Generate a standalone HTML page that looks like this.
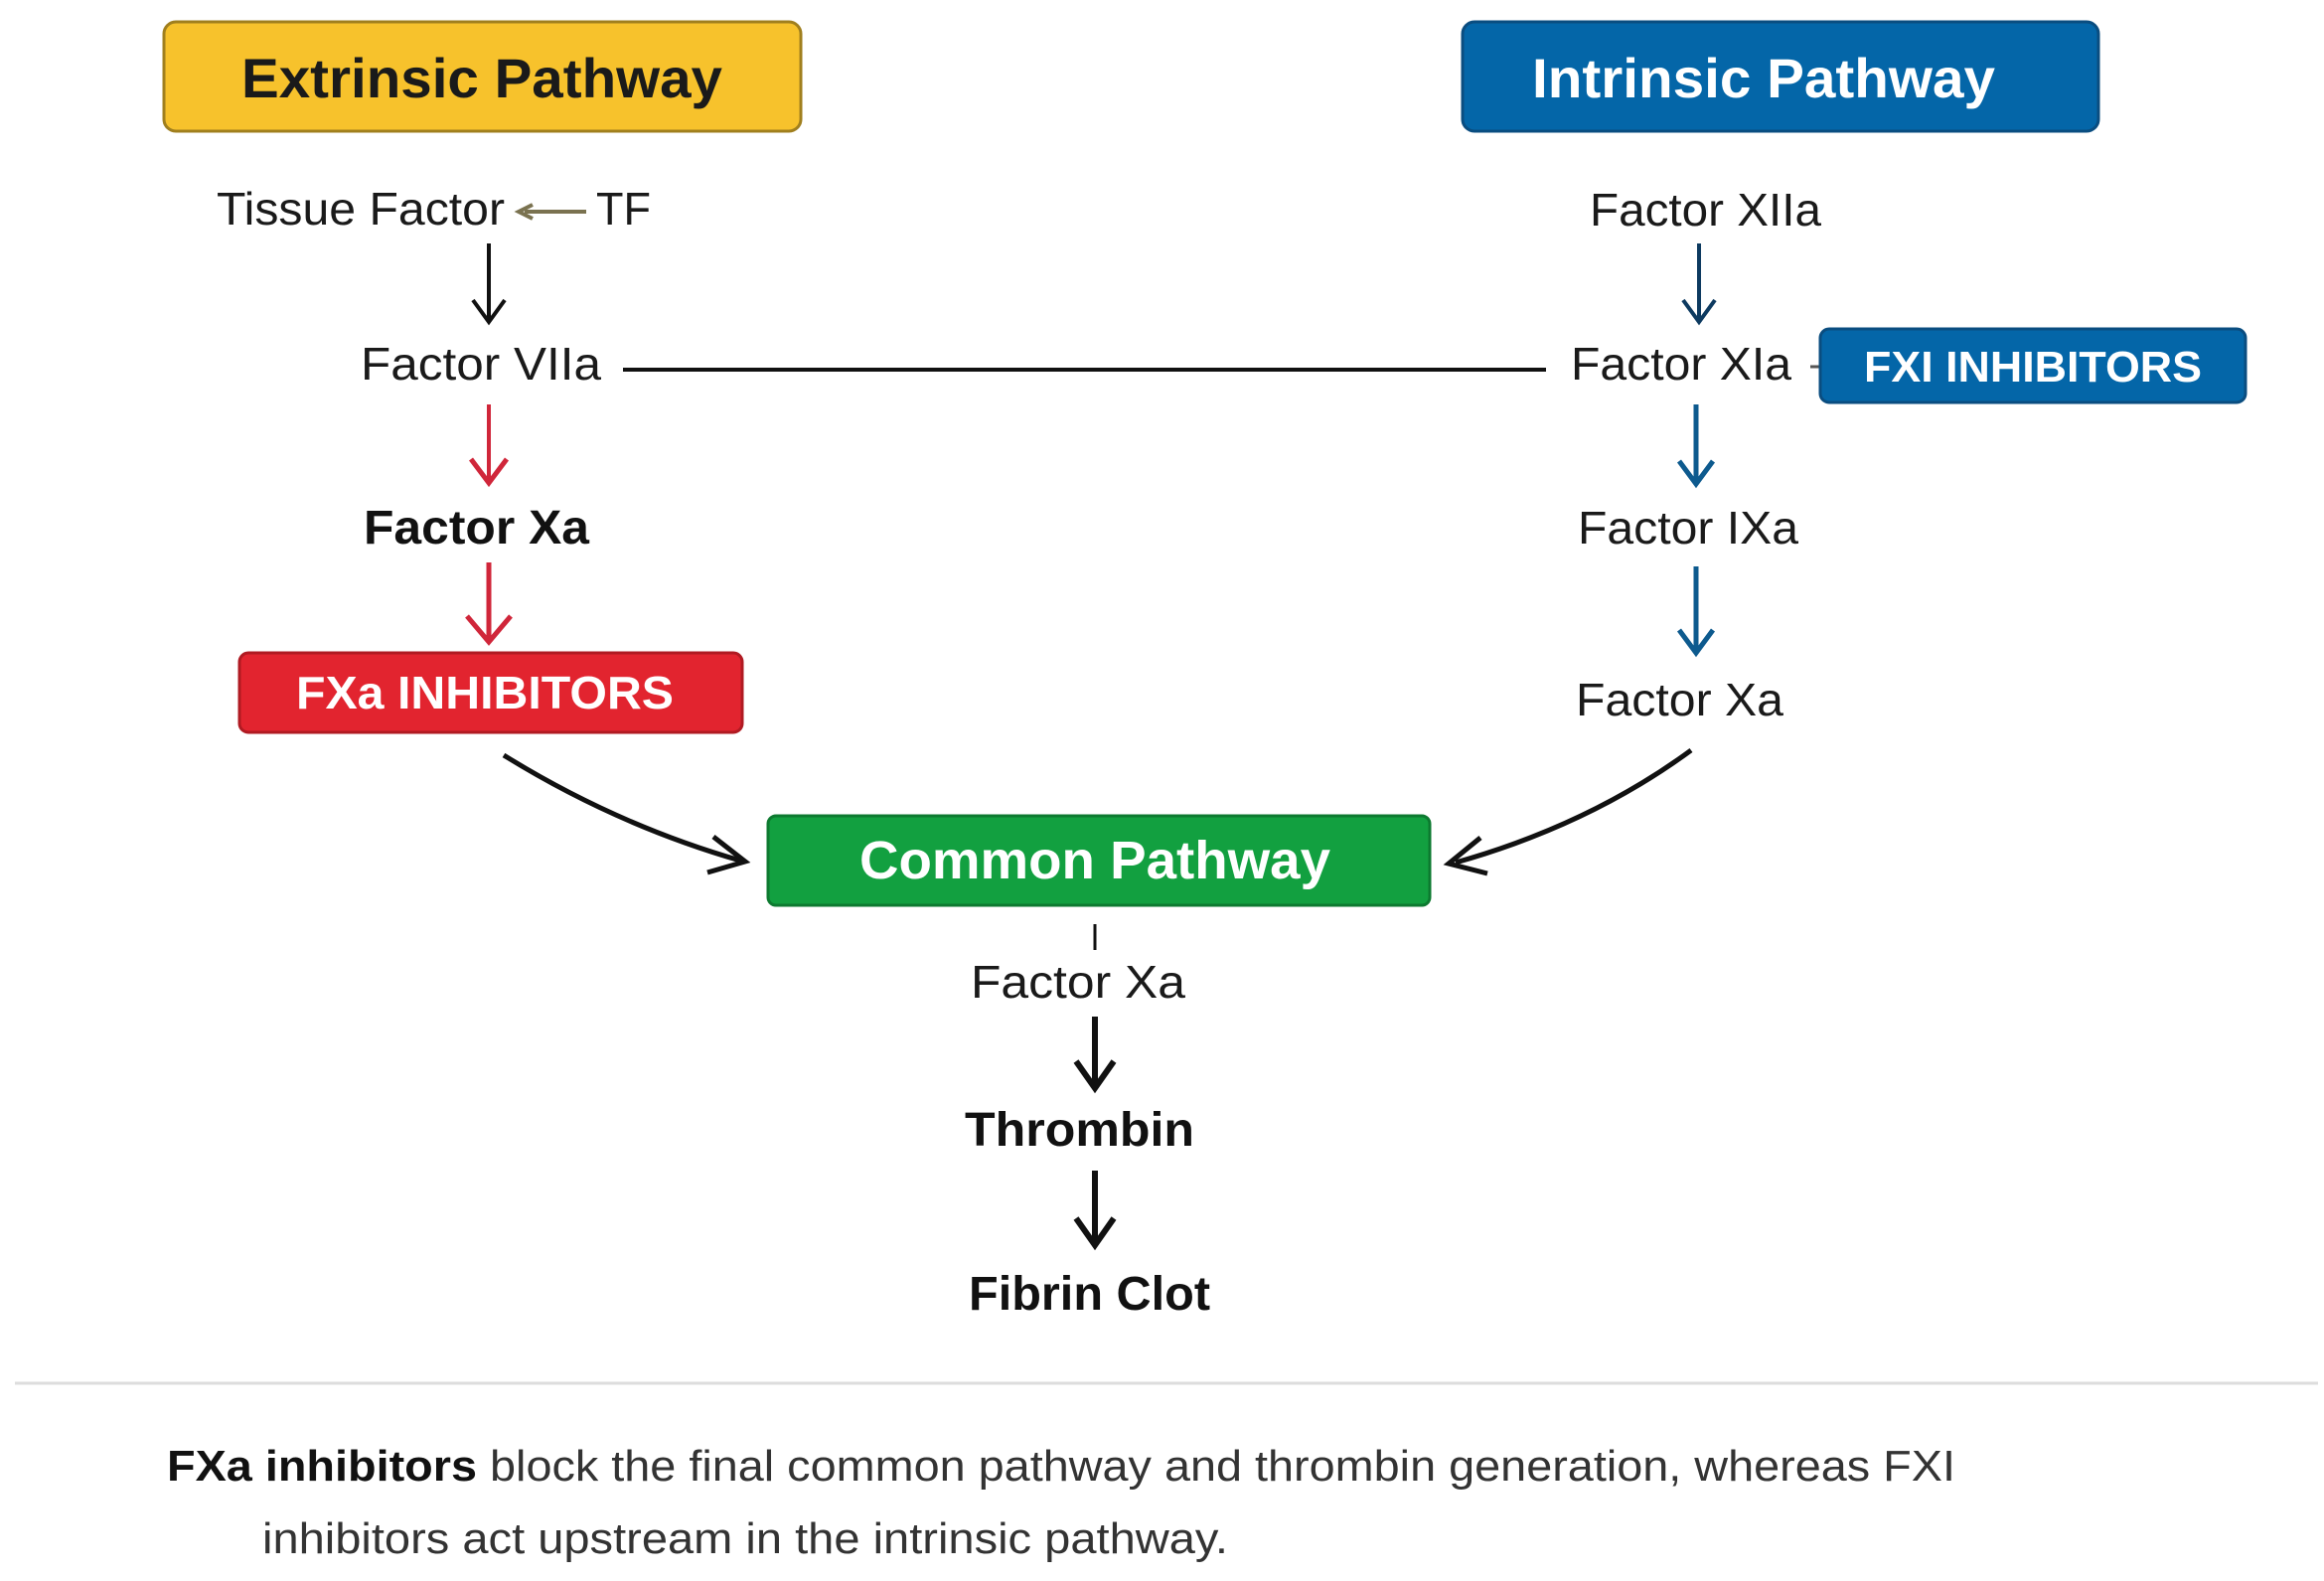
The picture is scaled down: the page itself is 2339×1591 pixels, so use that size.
<!DOCTYPE html>
<html><head><meta charset="utf-8"><style>html,body{margin:0;padding:0;background:#fff}svg{display:block}</style></head><body>
<svg width="2339" height="1591" viewBox="0 0 2339 1591" xmlns="http://www.w3.org/2000/svg" font-family="Liberation Sans, sans-serif">
<defs>
<marker id="ab" markerWidth="10" markerHeight="10" refX="8" refY="5" orient="auto" markerUnits="userSpaceOnUse" viewBox="0 0 10 10"><path d="M1 1 L8 5 L1 9" fill="none" stroke="#111" stroke-width="1.6"/></marker>
</defs>
<rect width="2339" height="1591" fill="#fff"/>
<!-- header boxes -->
<rect x="165" y="22" width="641" height="110" rx="12" fill="#f7c22c" stroke="#a07f1e" stroke-width="3"/>
<text x="485" y="98" font-size="56" font-weight="bold" fill="#1a1a1a" text-anchor="middle" textLength="484" lengthAdjust="spacingAndGlyphs">Extrinsic Pathway</text>
<rect x="1472" y="22" width="640" height="110" rx="12" fill="#0466a8" stroke="#0a4d80" stroke-width="3"/>
<text x="1775" y="98" font-size="56" font-weight="bold" fill="#fff" text-anchor="middle" textLength="466" lengthAdjust="spacingAndGlyphs">Intrinsic Pathway</text>
<!-- left column -->
<text x="218" y="226" font-size="46" fill="#1a1a1a" textLength="290" lengthAdjust="spacingAndGlyphs">Tissue Factor</text>
<line x1="528" y1="213" x2="590" y2="213" stroke="#7a7250" stroke-width="4"/>
<path d="M536 206 L522 213 L536 220" fill="none" stroke="#7a7250" stroke-width="4"/>
<text x="600" y="226" font-size="46" fill="#1a1a1a" textLength="55" lengthAdjust="spacingAndGlyphs">TF</text>
<line x1="492" y1="245" x2="492" y2="322" stroke="#111" stroke-width="4"/>
<path d="M476 302 L492 324 L508 302" fill="none" stroke="#111" stroke-width="4"/>
<text x="363" y="382" font-size="46" fill="#1a1a1a" textLength="242" lengthAdjust="spacingAndGlyphs">Factor VIIa</text>
<line x1="627" y1="372" x2="1556" y2="372" stroke="#111" stroke-width="4"/>
<line x1="492" y1="407" x2="492" y2="484" stroke="#d0263a" stroke-width="4"/>
<path d="M474 462 L492 486 L510 462" fill="none" stroke="#d0263a" stroke-width="5"/>
<text x="366" y="547" font-size="48" font-weight="bold" fill="#111" textLength="227" lengthAdjust="spacingAndGlyphs">Factor Xa</text>
<line x1="492" y1="566" x2="492" y2="644" stroke="#d0263a" stroke-width="5"/>
<path d="M470 620 L492 646 L514 620" fill="none" stroke="#d0263a" stroke-width="5"/>
<rect x="241" y="657" width="506" height="80" rx="9" fill="#e2242f" stroke="#b01a22" stroke-width="3"/>
<text x="488" y="713" font-size="46" font-weight="bold" fill="#fff" text-anchor="middle" textLength="380" lengthAdjust="spacingAndGlyphs">FXa INHIBITORS</text>
<!-- right column -->
<text x="1600" y="227" font-size="46" fill="#1a1a1a" textLength="233" lengthAdjust="spacingAndGlyphs">Factor XIIa</text>
<line x1="1710" y1="245" x2="1710" y2="322" stroke="#0d3a60" stroke-width="4"/>
<path d="M1694 302 L1710 324 L1726 302" fill="none" stroke="#0d3a60" stroke-width="4"/>
<text x="1581" y="382" font-size="46" fill="#1a1a1a" textLength="222" lengthAdjust="spacingAndGlyphs">Factor XIa</text>
<line x1="1822" y1="369" x2="1832" y2="369" stroke="#555" stroke-width="3"/>
<rect x="1832" y="331" width="428" height="74" rx="9" fill="#0466a8" stroke="#0a4d80" stroke-width="3"/>
<text x="2046" y="384" font-size="44" font-weight="bold" fill="#fff" text-anchor="middle" textLength="340" lengthAdjust="spacingAndGlyphs">FXI INHIBITORS</text>
<line x1="1707" y1="407" x2="1707" y2="484" stroke="#0d5a8e" stroke-width="5"/>
<path d="M1690 464 L1707 487 L1724 464" fill="none" stroke="#0d5a8e" stroke-width="5"/>
<text x="1588" y="547" font-size="46" fill="#1a1a1a" textLength="222" lengthAdjust="spacingAndGlyphs">Factor IXa</text>
<line x1="1707" y1="570" x2="1707" y2="655" stroke="#0d5a8e" stroke-width="5"/>
<path d="M1690 634 L1707 657 L1724 634" fill="none" stroke="#0d5a8e" stroke-width="5"/>
<text x="1586" y="720" font-size="46" fill="#1a1a1a" textLength="209" lengthAdjust="spacingAndGlyphs">Factor Xa</text>
<!-- curves -->
<path d="M507 760 Q620 830 745 866" fill="none" stroke="#111" stroke-width="5"/>
<path d="M718 842 L750 867 L712 878" fill="none" stroke="#111" stroke-width="5"/>
<path d="M1702 755 Q1600 830 1465 868" fill="none" stroke="#111" stroke-width="5"/>
<path d="M1490 843 L1458 869 L1497 879" fill="none" stroke="#111" stroke-width="5"/>
<!-- common -->
<rect x="773" y="821" width="666" height="90" rx="8" fill="#12a040" stroke="#0d7a30" stroke-width="3"/>
<text x="1102" y="884" font-size="54" font-weight="bold" fill="#fff" text-anchor="middle" textLength="474" lengthAdjust="spacingAndGlyphs">Common Pathway</text>
<line x1="1102" y1="930" x2="1102" y2="956" stroke="#111" stroke-width="3"/>
<text x="977" y="1004" font-size="46" fill="#1a1a1a" textLength="216" lengthAdjust="spacingAndGlyphs">Factor Xa</text>
<line x1="1102" y1="1023" x2="1102" y2="1092" stroke="#111" stroke-width="6"/>
<path d="M1083 1068 L1102 1095 L1121 1068" fill="none" stroke="#111" stroke-width="6"/>
<text x="971" y="1153" font-size="48" font-weight="bold" fill="#111" textLength="231" lengthAdjust="spacingAndGlyphs">Thrombin</text>
<line x1="1102" y1="1178" x2="1102" y2="1250" stroke="#111" stroke-width="6"/>
<path d="M1083 1226 L1102 1253 L1121 1226" fill="none" stroke="#111" stroke-width="6"/>
<text x="975" y="1318" font-size="48" font-weight="bold" fill="#111" textLength="243" lengthAdjust="spacingAndGlyphs">Fibrin Clot</text>
<!-- divider -->
<line x1="15" y1="1392" x2="2333" y2="1392" stroke="#ddd" stroke-width="3"/>
<text x="168" y="1490" font-size="44" fill="#333" textLength="1800" lengthAdjust="spacingAndGlyphs"><tspan font-weight="bold" fill="#111">FXa inhibitors</tspan> block the final common pathway and thrombin generation, whereas FXI</text>
<text x="264" y="1563" font-size="44" fill="#333" textLength="972" lengthAdjust="spacingAndGlyphs">inhibitors act upstream in the intrinsic pathway.</text>
</svg>
</body></html>
